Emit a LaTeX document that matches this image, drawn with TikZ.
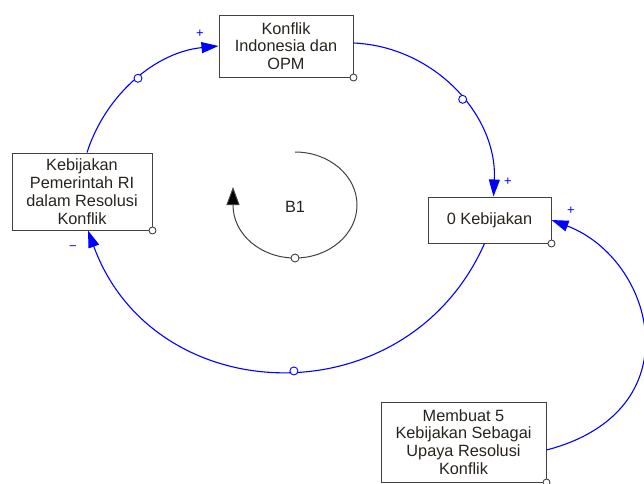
\documentclass[tikz,border=0pt]{standalone}
\usepackage{fontspec}
\setmainfont{Liberation Sans}
\usetikzlibrary{arrows.meta,positioning}
\definecolor{boxgray}{RGB}{65,65,65}
\definecolor{txtgray}{RGB}{40,35,30}
\tikzset{font=\fontsize{16.3}{17.8}\selectfont}
\tikzset{every node/.append style={transform shape=false}}
\tikzset{
  var/.style={draw=boxgray, line width=1pt, align=center, text=txtgray, inner sep=0pt},
  link/.style={draw=blue, line width=1.1pt, -{Triangle[length=17pt,width=11pt]}},
  linkdot/.style={circle, draw=blue, fill=white, line width=0.9pt, inner sep=0pt, minimum size=8pt},
  cornerdot/.style={draw=boxgray, fill=white, line width=0.9pt},
  loopline/.style={draw=boxgray, line width=1pt, -{Triangle[length=18pt,width=13pt,fill=black]}},
  sign/.style={text=blue, font=\fontsize{13}{13}\selectfont}
}

\begin{document}
\begin{tikzpicture}[x=1pt,y=-1pt]
  \useasboundingbox (0,0) rectangle (644,483);

  \node[var, minimum width=134pt, minimum height=62pt] (konf) at (286,46) {Konflik\\Indonesia dan\\OPM};
  \node[var, minimum width=140pt, minimum height=77pt] (kebpem) at (82,191.5) {Kebijakan\\Pemerintah RI\\dalam Resolusi\\Konflik};
  \node[var, minimum width=123pt, minimum height=46pt] (nol) at (489.5,220) {0 Kebijakan};
  \node[var, minimum width=165pt, minimum height=80pt] (upaya) at (463.5,442) {Membuat 5\\Kebijakan Sebagai\\Upaya Resolusi\\Konflik};

  \foreach \b in {konf,kebpem,nol,upaya}{
    \draw[cornerdot] (\b.south east) circle (3.5pt);
  };

  % causal links
  \draw[link] ([yshift=3pt]konf.east) .. controls +(81,3.5) and +(4,-81) .. ([xshift=4pt]nol.north)
    node[linkdot, pos=0.55] (dA) {};
  \draw[link] ([xshift=-5pt]nol.south) .. controls +(-78,176) and +(66,181) .. ([xshift=6pt]kebpem.south)
    node[linkdot, pos=0.475] (dB) {};
  \draw[link] ([xshift=5pt]kebpem.north) .. controls +(19,-59) and +(-62,6) .. (konf.west)
    node[linkdot, pos=0.51] (dC) {};
  \draw[link] ([yshift=-8pt]upaya.east) .. controls +(149,-39) and +(103,39) .. (nol.east);

  \node[sign] (sA) at (508,182) {+};
  \node[sign] (sB) at (73,248) {−};
  \node[sign] (sC) at (200,34) {+};
  \node[sign] (sD) at (571,211) {+};

  % loop marker
  \draw[loopline] (295,152) arc[start angle=270, end angle=540, x radius=62, y radius=53] -- (233,187);
  \node[linkdot, draw=boxgray] (bdot) at (295,258) {};
  \node[text=txtgray] (b1) at (295,207) {B1};
\end{tikzpicture}
\end{document}
